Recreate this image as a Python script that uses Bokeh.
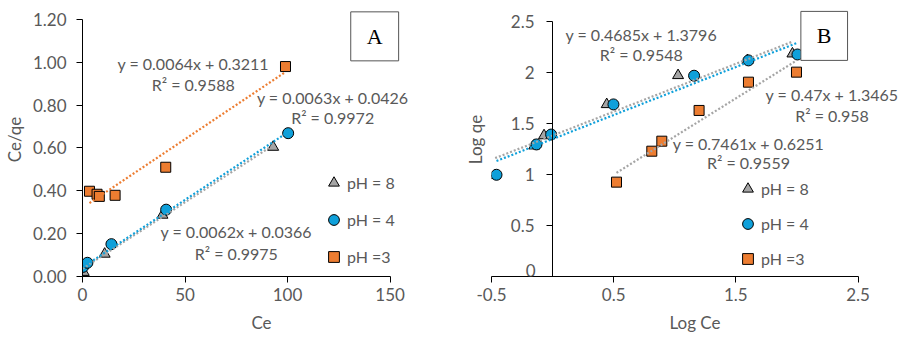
from bokeh.plotting import figure
from bokeh.layouts import row
from bokeh.models import (Range1d, FixedTicker, Label, Legend, LegendItem, LinearAxis,
                          NumeralTickFormatter, CustomJSTickFormatter)
from bokeh.embed import file_html
from bokeh.resources import INLINE

# ---------------- Panel A data (Ce vs Ce/qe) ----------------
a_ph8_x = [0.1, 0.6, 10.8, 39.0, 93.0]
a_ph8_y = [0.008, 0.02, 0.105, 0.287, 0.604]
a_ph4_x = [0.3, 2.4, 14.1, 40.8, 100.3]
a_ph4_y = [0.045, 0.064, 0.151, 0.312, 0.669]
a_ph3_x = [3.4, 7.1, 8.2, 15.9, 40.6, 99.0]
a_ph3_y = [0.398, 0.384, 0.374, 0.379, 0.51, 0.98]
a_slopes = {"pH8": 0.0062, "pH4": 0.0063, "pH3": 0.0064}
a_inter = {"pH8": 0.0366, "pH4": 0.0426, "pH3": 0.3211}
a_r2 = {"pH8": "0.9975", "pH4": "0.9972", "pH3": "0.9588"}
a_xticks = [0, 50, 100, 150]
a_yticks = [0.0, 0.2, 0.4, 0.6, 0.8, 1.0, 1.2]

# ---------------- Panel B data (Log Ce vs Log qe) ----------------
b_ph8_x = [-0.47, -0.15, -0.07, 0.443, 1.027, 1.595, 1.963]
b_ph8_y = [0.99, 1.28, 1.38, 1.685, 1.969, 2.116, 2.181]
b_ph4_x = [-0.459, -0.132, -0.012, 0.498, 1.158, 1.603, 2.004]
b_ph4_y = [0.996, 1.293, 1.39, 1.685, 1.966, 2.116, 2.174]
b_ph3_x = [0.523, 0.812, 0.894, 1.199, 1.603, 1.996]
b_ph3_y = [0.924, 1.227, 1.325, 1.626, 1.903, 2.001]
b_slopes = {"pH8": 0.4685, "pH4": 0.47, "pH3": 0.7461}
b_inter = {"pH8": 1.3796, "pH4": 1.3465, "pH3": 0.6251}
b_r2 = {"pH8": "0.9548", "pH4": "0.958", "pH3": "0.9559"}
b_xticks = [-0.5, 0.5, 1.5, 2.5]
b_yticks = [0, 0.5, 1, 1.5, 2, 2.5]

legend_labels = ["pH = 8", "pH = 4", "pH =3"]

ORANGE = "#ED7D31"
BLUE = "#0FA0DA"
GREY = "#A5A5A5"
TXT = "#595959"
FONT = "Lato"


def style_axes(p):
    for ax in list(p.xaxis) + list(p.yaxis):
        ax.axis_line_color = "black"
        ax.axis_line_width = 1
        ax.major_tick_line_color = "black"
        ax.major_tick_out = 6
        ax.major_tick_in = 0
        ax.minor_tick_line_color = None
        ax.major_label_text_font = FONT
        ax.major_label_text_font_size = "17px"
        ax.major_label_text_color = TXT
        ax.axis_label_text_font = FONT
        ax.axis_label_text_font_size = "17px"
        ax.axis_label_text_font_style = "normal"
        ax.axis_label_text_color = TXT
    p.xgrid.visible = False
    p.ygrid.visible = False
    p.outline_line_color = None


def trend(p, xs, key, slopes, inter, color):
    x0, x1 = min(xs), max(xs)
    p.line([x0, x1], [slopes[key] * x0 + inter[key], slopes[key] * x1 + inter[key]],
           line_color=color, line_width=2.2, line_dash="2 2")


def text(p, x, y, t, baseline="middle", align="center"):
    p.add_layout(Label(x=x, y=y, text=t, text_align=align, text_baseline=baseline,
                       text_font=FONT, text_font_size="16px", text_color=TXT))


def eq_label(p, key, slopes, inter, r2, x, y1, y2):
    text(p, x, y1, f"y = {slopes[key]}x + {inter[key]}")
    text(p, x, y2, f"R² = {r2[key]}")


def box_label(p, x, y, t):
    p.add_layout(Label(x=x, y=y, text=t, text_align="center", text_baseline="middle",
                       text_font="Liberation Serif", text_font_size="22px", text_color="black",
                       background_fill_color="white", border_line_color="#555555",
                       border_line_width=1,
                       padding=dict(left=16, right=16, top=12, bottom=12)))


def markers(p, xs8, ys8, xs4, ys4, xs3, ys3):
    r8 = p.scatter(xs8, ys8, marker="triangle", size=11, fill_color=GREY, line_color="black", line_width=1)
    r4 = p.scatter(xs4, ys4, marker="circle", size=11, fill_color=BLUE, line_color="black", line_width=1)
    r3 = p.scatter(xs3, ys3, marker="square", size=10, fill_color=ORANGE, line_color="black", line_width=1)
    return r8, r4, r3


def add_legend(p, rs, loc, spacing):
    leg = Legend(items=[LegendItem(label=l, renderers=[r]) for l, r in zip(legend_labels, rs)],
                 location=loc, orientation="vertical", glyph_width=27, glyph_height=27,
                 label_height=27, label_standoff=0, spacing=spacing, padding=0, margin=0,
                 border_line_color=None, background_fill_alpha=0,
                 label_text_font=FONT, label_text_font_size="16px", label_text_color=TXT)
    p.add_layout(leg, "center")


# ---------------- Figure A ----------------
pa = figure(width=450, height=337, output_backend="svg", toolbar_location=None,
            x_range=Range1d(0, 174.6), y_range=Range1d(0, 1.279),
            min_border_left=78, min_border_right=10, min_border_top=2, min_border_bottom=61)
pa.xaxis.ticker = FixedTicker(ticks=a_xticks)
pa.yaxis.ticker = FixedTicker(ticks=a_yticks)
pa.xaxis.bounds = (min(a_xticks), max(a_xticks))
pa.yaxis.bounds = (min(a_yticks), max(a_yticks))
pa.yaxis.formatter = NumeralTickFormatter(format="0.00")
pa.xaxis.axis_label = "Ce"
pa.yaxis.axis_label = "Ce/qe"
style_axes(pa)
pa.xaxis.major_label_standoff = 5
pa.xaxis.axis_label_standoff = 8
pa.yaxis.major_label_standoff = 10
pa.yaxis.axis_label_standoff = 5

ra = markers(pa, a_ph8_x, a_ph8_y, a_ph4_x, a_ph4_y, a_ph3_x, a_ph3_y)
trend(pa, a_ph8_x, "pH8", a_slopes, a_inter, GREY)
trend(pa, a_ph4_x, "pH4", a_slopes, a_inter, BLUE)
trend(pa, a_ph3_x, "pH3", a_slopes, a_inter, ORANGE)
eq_label(pa, "pH3", a_slopes, a_inter, a_r2, 54.0, 0.993, 0.895)
eq_label(pa, "pH4", a_slopes, a_inter, a_r2, 122.0, 0.835, 0.742)
eq_label(pa, "pH8", a_slopes, a_inter, a_r2, 75.0, 0.208, 0.109)
box_label(pa, 142.5, 1.121, "A")
add_legend(pa, ra, (238, 6), 10)

# ---------------- Figure B ----------------
pb = figure(width=450, height=337, output_backend="svg", toolbar_location=None,
            x_range=Range1d(-0.5, 2.831), y_range=Range1d(0, 2.683),
            min_border_left=41, min_border_right=2, min_border_top=2, min_border_bottom=61)
pb.xaxis.ticker = FixedTicker(ticks=b_xticks)
pb.yaxis.ticker = FixedTicker(ticks=b_yticks)
pb.xaxis.bounds = (min(b_xticks), max(b_xticks))
pb.yaxis.bounds = (min(b_yticks), max(b_yticks))
pb.yaxis.formatter = CustomJSTickFormatter(code="return String(tick);")
pb.xaxis.formatter = CustomJSTickFormatter(code="return String(tick);")
pb.yaxis.major_label_overrides = {0: ""}
pb.yaxis.fixed_location = 0
pb.xaxis.axis_label = "Log Ce"
ytitle = LinearAxis(axis_label="Log qe", ticker=FixedTicker(ticks=[]))
pb.add_layout(ytitle, "left")
style_axes(pb)
ytitle.axis_line_color = None
ytitle.major_tick_line_color = None
ytitle.major_tick_out = 0
ytitle.major_label_standoff = 0
ytitle.axis_label_standoff = 6
pb.xaxis.major_label_standoff = 5
pb.xaxis.axis_label_standoff = 8
pb.yaxis[0].major_label_standoff = 12

rb = markers(pb, b_ph8_x, b_ph8_y, b_ph4_x, b_ph4_y, b_ph3_x, b_ph3_y)
trend(pb, b_ph8_x, "pH8", b_slopes, b_inter, GREY)
trend(pb, b_ph4_x, "pH4", b_slopes, b_inter, BLUE)
trend(pb, b_ph3_x, "pH3", b_slopes, b_inter, GREY)
eq_label(pb, "pH8", b_slopes, b_inter, b_r2, 0.726, 2.370, 2.177)
eq_label(pb, "pH4", b_slopes, b_inter, b_r2, 2.287, 1.783, 1.577)
eq_label(pb, "pH3", b_slopes, b_inter, b_r2, 1.603, 1.306, 1.117)
box_label(pb, 2.223, 2.356, "B")
# y-axis "0" tick label (kept inside the plotting area)
pb.add_layout(Label(x=-0.14, y=0.0, text="0", text_align="right", text_baseline="bottom",
                    text_font=FONT, text_font_size="17px", text_color=TXT))
add_legend(pb, rb, (243, 4), 8)

layout = row(pa, pb)
open("out.html", "w").write(file_html(layout, INLINE))
